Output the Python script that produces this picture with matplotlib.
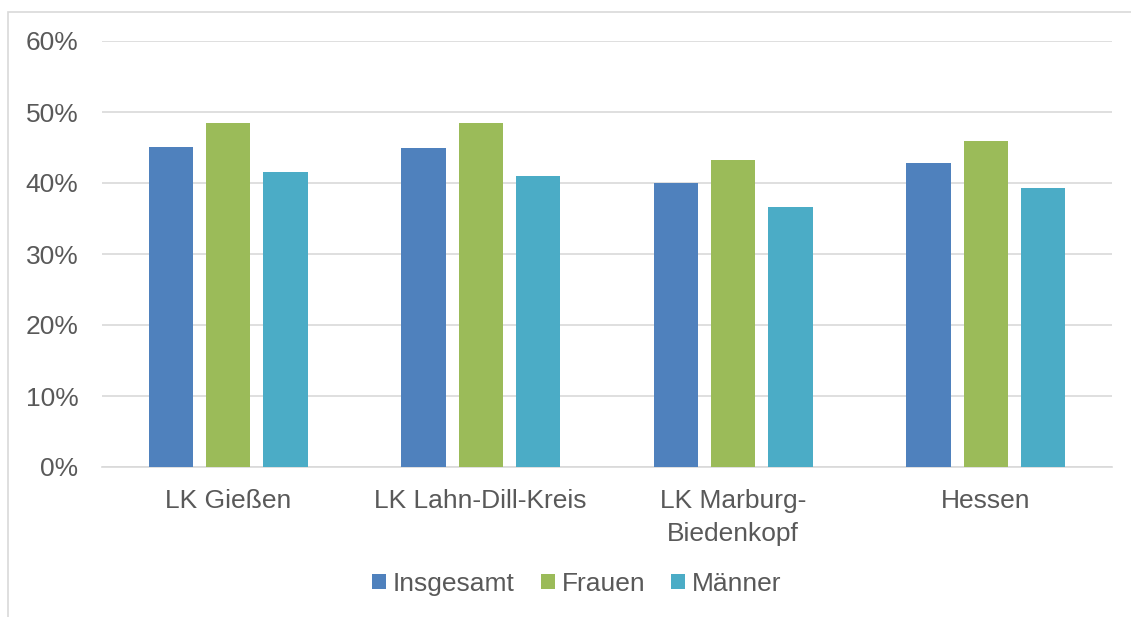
import numpy as np
import matplotlib.pyplot as plt
from matplotlib.patches import Rectangle

plt.rcParams['font.family'] = ['Liberation Sans', 'DejaVu Sans']

# Data
regions = ['LK Gießen', 'LK Lahn-Dill-Kreis', 'LK Marburg-\nBiedenkopf', 'Hessen']
series = ['Insgesamt', 'Frauen', 'Männer']
insgesamt = [45.1, 45.0, 40.0, 42.8]
frauen = [48.5, 48.5, 43.2, 45.9]
maenner = [41.6, 41.0, 36.6, 39.3]
colors = ['#4F81BD', '#9BBB59', '#4BACC6']

text_color = '#595959'
grid_color = '#D9D9D9'

fig = plt.figure(figsize=(11.31, 6.17), dpi=100)

# light chart frame
fig.patches.append(Rectangle((8 / 1131, -0.1), 1.2, 1 - 12 / 617 + 0.1,
                             transform=fig.transFigure, fill=False,
                             edgecolor=grid_color, linewidth=1.2))

ax = fig.add_axes([102 / 1131, 1 - 467 / 617, 1010 / 1131, 426 / 617])

x = np.arange(len(regions))
width = 0.176
offset = 0.226
for i, (vals, name) in enumerate(zip([insgesamt, frauen, maenner], series)):
    ax.bar(x + (i - 1) * offset, vals, width, color=colors[i], label=name, zorder=3)

ax.set_xlim(-0.5, len(regions) - 0.5)
ax.set_ylim(0, 60)
ax.set_yticks(range(0, 61, 10))
ax.set_yticklabels([f'{v}%' for v in range(0, 61, 10)])
ax.set_xticks(x)
ax.set_xticklabels(regions, linespacing=1.45)

ax.grid(axis='y', color=grid_color, linewidth=1.2, zorder=0)
for s in ['top', 'right', 'left']:
    ax.spines[s].set_visible(False)
ax.spines['bottom'].set_color(grid_color)
ax.spines['bottom'].set_linewidth(1.2)
ax.tick_params(axis='both', length=0, labelsize=19, colors=text_color)
ax.tick_params(axis='y', pad=17)
ax.tick_params(axis='x', pad=16)

fig.legend(loc='center', bbox_to_anchor=(0.51, 1 - 584 / 617), ncol=3,
           frameon=False, fontsize=19, labelcolor=text_color,
           handlelength=0.53, handleheight=0.53, handletextpad=0.25,
           columnspacing=1.0)

fig.savefig('out.png', dpi=100, facecolor='white')
